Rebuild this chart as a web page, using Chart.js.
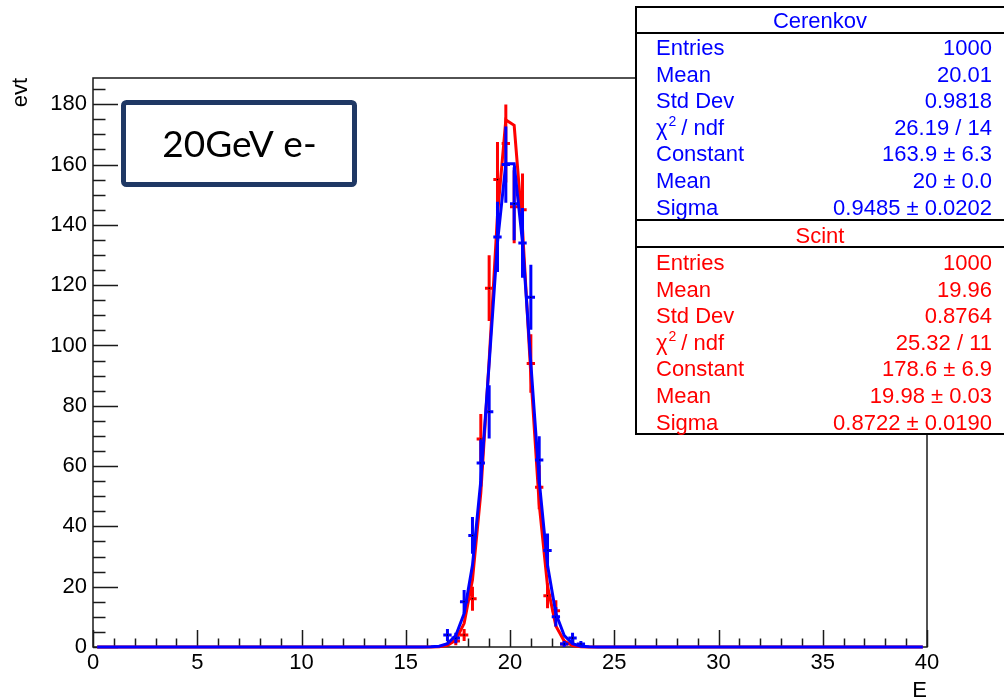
<!DOCTYPE html>
<html><head><meta charset="utf-8">
<script src="https://cdn.jsdelivr.net/npm/chart.js@4.4.0/dist/chart.umd.min.js"></script>
<style>html,body{margin:0;padding:0;background:#fff;}#wrap{width:1004px;height:699px;position:relative;}canvas{display:block;}</style>
</head><body><div id="wrap"><canvas id="c" width="1004" height="699"></canvas></div>
<script>
// ---- data ----
const binWidth = 0.4;
const binCenters = [17.0, 17.4, 17.8, 18.2, 18.6, 19.0, 19.4, 19.8, 20.2, 20.6, 21.0, 21.4, 21.8, 22.2, 22.6, 23.0, 23.4];
const cerenkovCounts = [4, 3, 15, 37, 61, 78, 136, 160, 147, 134, 116, 62, 32, 10, 1, 3, 1];
const scintCounts    = [0, 2, 4, 16, 69, 119, 155, 167, 146, 145, 94, 53, 17, 12, 1, 0, 0];
const fitX = [0.2, 15.8, 16.2, 16.6, 17.0, 17.4, 17.8, 18.2, 18.6, 19.0, 19.4, 19.8, 20.2, 20.6, 21.0, 21.4, 21.8, 22.2, 22.6, 23.0, 23.4, 23.8, 24.2, 39.8];
const cerenkovFit = [0, 0, 0.05, 0.27, 1.10, 3.83, 11.13, 27.07, 55.15, 94.01, 134.2, 160.3, 160.3, 134.2, 94.01, 55.15, 27.07, 11.13, 3.83, 1.10, 0.27, 0.05, 0, 0];
const scintFit    = [0, 0, 0.02, 0.10, 0.52, 2.25, 7.86, 22.26, 51.08, 95.02, 143.2, 174.8, 173.0, 138.7, 90.14, 47.45, 20.25, 7.00, 1.96, 0.45, 0.08, 0.01, 0, 0];
const xTicks = [0, 5, 10, 15, 20, 25, 30, 35, 40];
const yTicks = [0, 20, 40, 60, 80, 100, 120, 140, 160, 180];
const xTitle = 'E';
const yTitle = 'evt';
const labelText = '20GeV e-';
const cerenkovStatLabels = ['Entries', 'Mean', 'Std Dev', 'χ²/ ndf', 'Constant', 'Mean', 'Sigma'];
const cerenkovStatValues = ['1000', '20.01', '0.9818', '26.19 / 14', '163.9 ± 6.3', '20 ± 0.0', '0.9485 ± 0.0202'];
const scintStatLabels = ['Entries', 'Mean', 'Std Dev', 'χ²/ ndf', 'Constant', 'Mean', 'Sigma'];
const scintStatValues = ['1000', '19.96', '0.8764', '25.32 / 11', '178.6 ± 6.9', '19.98 ± 0.03', '0.8722 ± 0.0190'];

const FONT = '"Liberation Sans", Arial, Helvetica, sans-serif';
const BLUE = '#0000ff', RED = '#ff0000';

const histPoints = counts => binCenters.map((x, i) => ({x, y: counts[i]})).filter(p => p.y > 0);
const fitPoints = vals => fitX.map((x, i) => ({x, y: vals[i]}));

const rootPlugin = {
  id: 'root',
  beforeDraw(chart) {
    const c = chart.ctx; c.save(); c.fillStyle = '#fff'; c.fillRect(0, 0, chart.width, chart.height); c.restore();
  },
  beforeDatasetsDraw(chart) {
    const c = chart.ctx, ca = chart.chartArea, xs = chart.scales.x, ys = chart.scales.y;
    c.save();
    c.strokeStyle = '#1a1a1a'; c.lineWidth = 1.5;
    c.strokeRect(ca.left, ca.top, ca.right - ca.left, ca.bottom - ca.top);
    c.beginPath();
    for (let v = 0; v <= ys.max; v += 5) {
      const py = Math.round(ys.getPixelForValue(v)) + 0.5;
      const len = (v % 20 === 0) ? 25 : 12.5;
      c.moveTo(ca.left, py); c.lineTo(ca.left + len, py);
    }
    for (let v = 0; v <= 40; v += 1) {
      const px = Math.round(xs.getPixelForValue(v)) + 0.5;
      const len = (v % 5 === 0) ? 17 : 8.5;
      c.moveTo(px, ca.bottom); c.lineTo(px, ca.bottom - len);
    }
    c.stroke();
    c.restore();
  },
  beforeDatasetDraw(chart, args) {
    const ds = chart.data.datasets[args.index];
    if (!ds.errColor) return;
    const c = chart.ctx, xs = chart.scales.x, ys = chart.scales.y;
    c.save();
    c.strokeStyle = ds.errColor; c.lineWidth = 3; c.lineCap = 'butt';
    c.beginPath();
    ds.data.forEach(p => {
      const e = Math.sqrt(p.y);
      const px = xs.getPixelForValue(p.x), py = ys.getPixelForValue(p.y);
      c.moveTo(px, ys.getPixelForValue(p.y - e)); c.lineTo(px, ys.getPixelForValue(p.y + e));
      c.moveTo(xs.getPixelForValue(p.x - binWidth / 2), py); c.lineTo(xs.getPixelForValue(p.x + binWidth / 2), py);
    });
    c.stroke();
    c.restore();
  },
  afterDraw(chart) {
    const c = chart.ctx, ca = chart.chartArea;
    c.save();
    // axis titles
    c.fillStyle = '#000';
    c.font = '22px ' + FONT;
    c.textAlign = 'right'; c.textBaseline = 'alphabetic';
    c.fillText(xTitle, ca.right, 697);
    c.save();
    c.translate(27, ca.top); c.rotate(-Math.PI / 2);
    c.textAlign = 'right';
    c.fillText(yTitle, 0, 0);
    c.restore();

    // label box
    c.strokeStyle = '#1f3864'; c.lineWidth = 5;
    c.beginPath();
    if (c.roundRect) c.roundRect(123.5, 102.5, 231, 82, 3); else c.rect(123.5, 102.5, 231, 82);
    c.stroke();
    c.fillStyle = '#000';
    c.font = '37px Lato, "Open Sans", sans-serif';
    c.textAlign = 'center';
    c.fillText(labelText, 239.5, 157);

    // stats boxes
    const drawStats = (top, sep, bottom, title, labels, values, color, titleBase, firstBase) => {
      c.fillStyle = '#fff';
      c.fillRect(636, top, 370, bottom - top);
      c.strokeStyle = '#000'; c.lineWidth = 2;
      c.strokeRect(636, top, 372, bottom - top);
      c.beginPath(); c.moveTo(636, sep); c.lineTo(1004, sep); c.stroke();
      c.fillStyle = color;
      c.font = '22px ' + FONT;
      c.textAlign = 'center';
      c.fillText(title, 820, titleBase);
      labels.forEach((lab, i) => {
        const base = firstBase + i * 26.6;
        c.textAlign = 'left';
        if (lab.indexOf('²') >= 0) {
          const parts = lab.split('²');
          c.font = '22px ' + FONT;
          c.fillText(parts[0], 656, base);
          const w = c.measureText(parts[0]).width;
          c.font = '14px ' + FONT;
          c.fillText('2', 656 + w + 1, base - 9);
          const w2 = c.measureText('2').width;
          c.font = '22px ' + FONT;
          c.fillText(parts[1], 656 + w + w2 + 6, base);
        } else {
          c.font = '22px ' + FONT;
          c.fillText(lab, 656, base);
        }
        c.textAlign = 'right';
        c.fillText(values[i], 992, base);
      });
    };
    drawStats(7, 33, 220, 'Cerenkov', cerenkovStatLabels, cerenkovStatValues, BLUE, 28, 55);
    drawStats(220, 247, 434, 'Scint', scintStatLabels, scintStatValues, RED, 243, 270);
    c.restore();
  }
};

new Chart(document.getElementById('c').getContext('2d'), {
  type: 'scatter',
  data: {
    datasets: [
      {label: 'Cerenkov fit', data: fitPoints(cerenkovFit), showLine: true, borderColor: BLUE, borderWidth: 3, pointRadius: 0, tension: 0, fill: false, clip: false},
      {label: 'Cerenkov', data: histPoints(cerenkovCounts), showLine: false, pointRadius: 0.8, pointBackgroundColor: '#000', pointBorderWidth: 0, errColor: BLUE, clip: false},
      {label: 'Scint fit', data: fitPoints(scintFit), showLine: true, borderColor: RED, borderWidth: 3, pointRadius: 0, tension: 0, fill: false, clip: false},
      {label: 'Scint', data: histPoints(scintCounts), showLine: false, pointRadius: 0.8, pointBackgroundColor: '#000', pointBorderWidth: 0, errColor: RED, clip: false}
    ]
  },
  options: {
    responsive: false, animation: false, devicePixelRatio: 1,
    layout: {padding: {left: 0, top: 78, right: 77, bottom: 0}},
    plugins: {legend: {display: false}, tooltip: {enabled: false}},
    scales: {
      x: {
        type: 'linear', min: 0, max: 40,
        grid: {display: false, drawTicks: false}, border: {display: false},
        afterBuildTicks: s => { s.ticks = xTicks.map(v => ({value: v})); },
        afterFit: s => { s.height = 52; },
        ticks: {font: {family: FONT, size: 22}, color: '#000', padding: 3, maxRotation: 0, autoSkip: false}
      },
      y: {
        type: 'linear', min: 0, max: 188.7,
        grid: {display: false, drawTicks: false}, border: {display: false},
        afterBuildTicks: s => { s.ticks = yTicks.map(v => ({value: v})); },
        afterFit: s => { s.width = 93; },
        ticks: {font: {family: FONT, size: 22}, color: '#000', padding: 6, autoSkip: false}
      }
    }
  },
  plugins: [rootPlugin]
});
</script>
</body></html>
